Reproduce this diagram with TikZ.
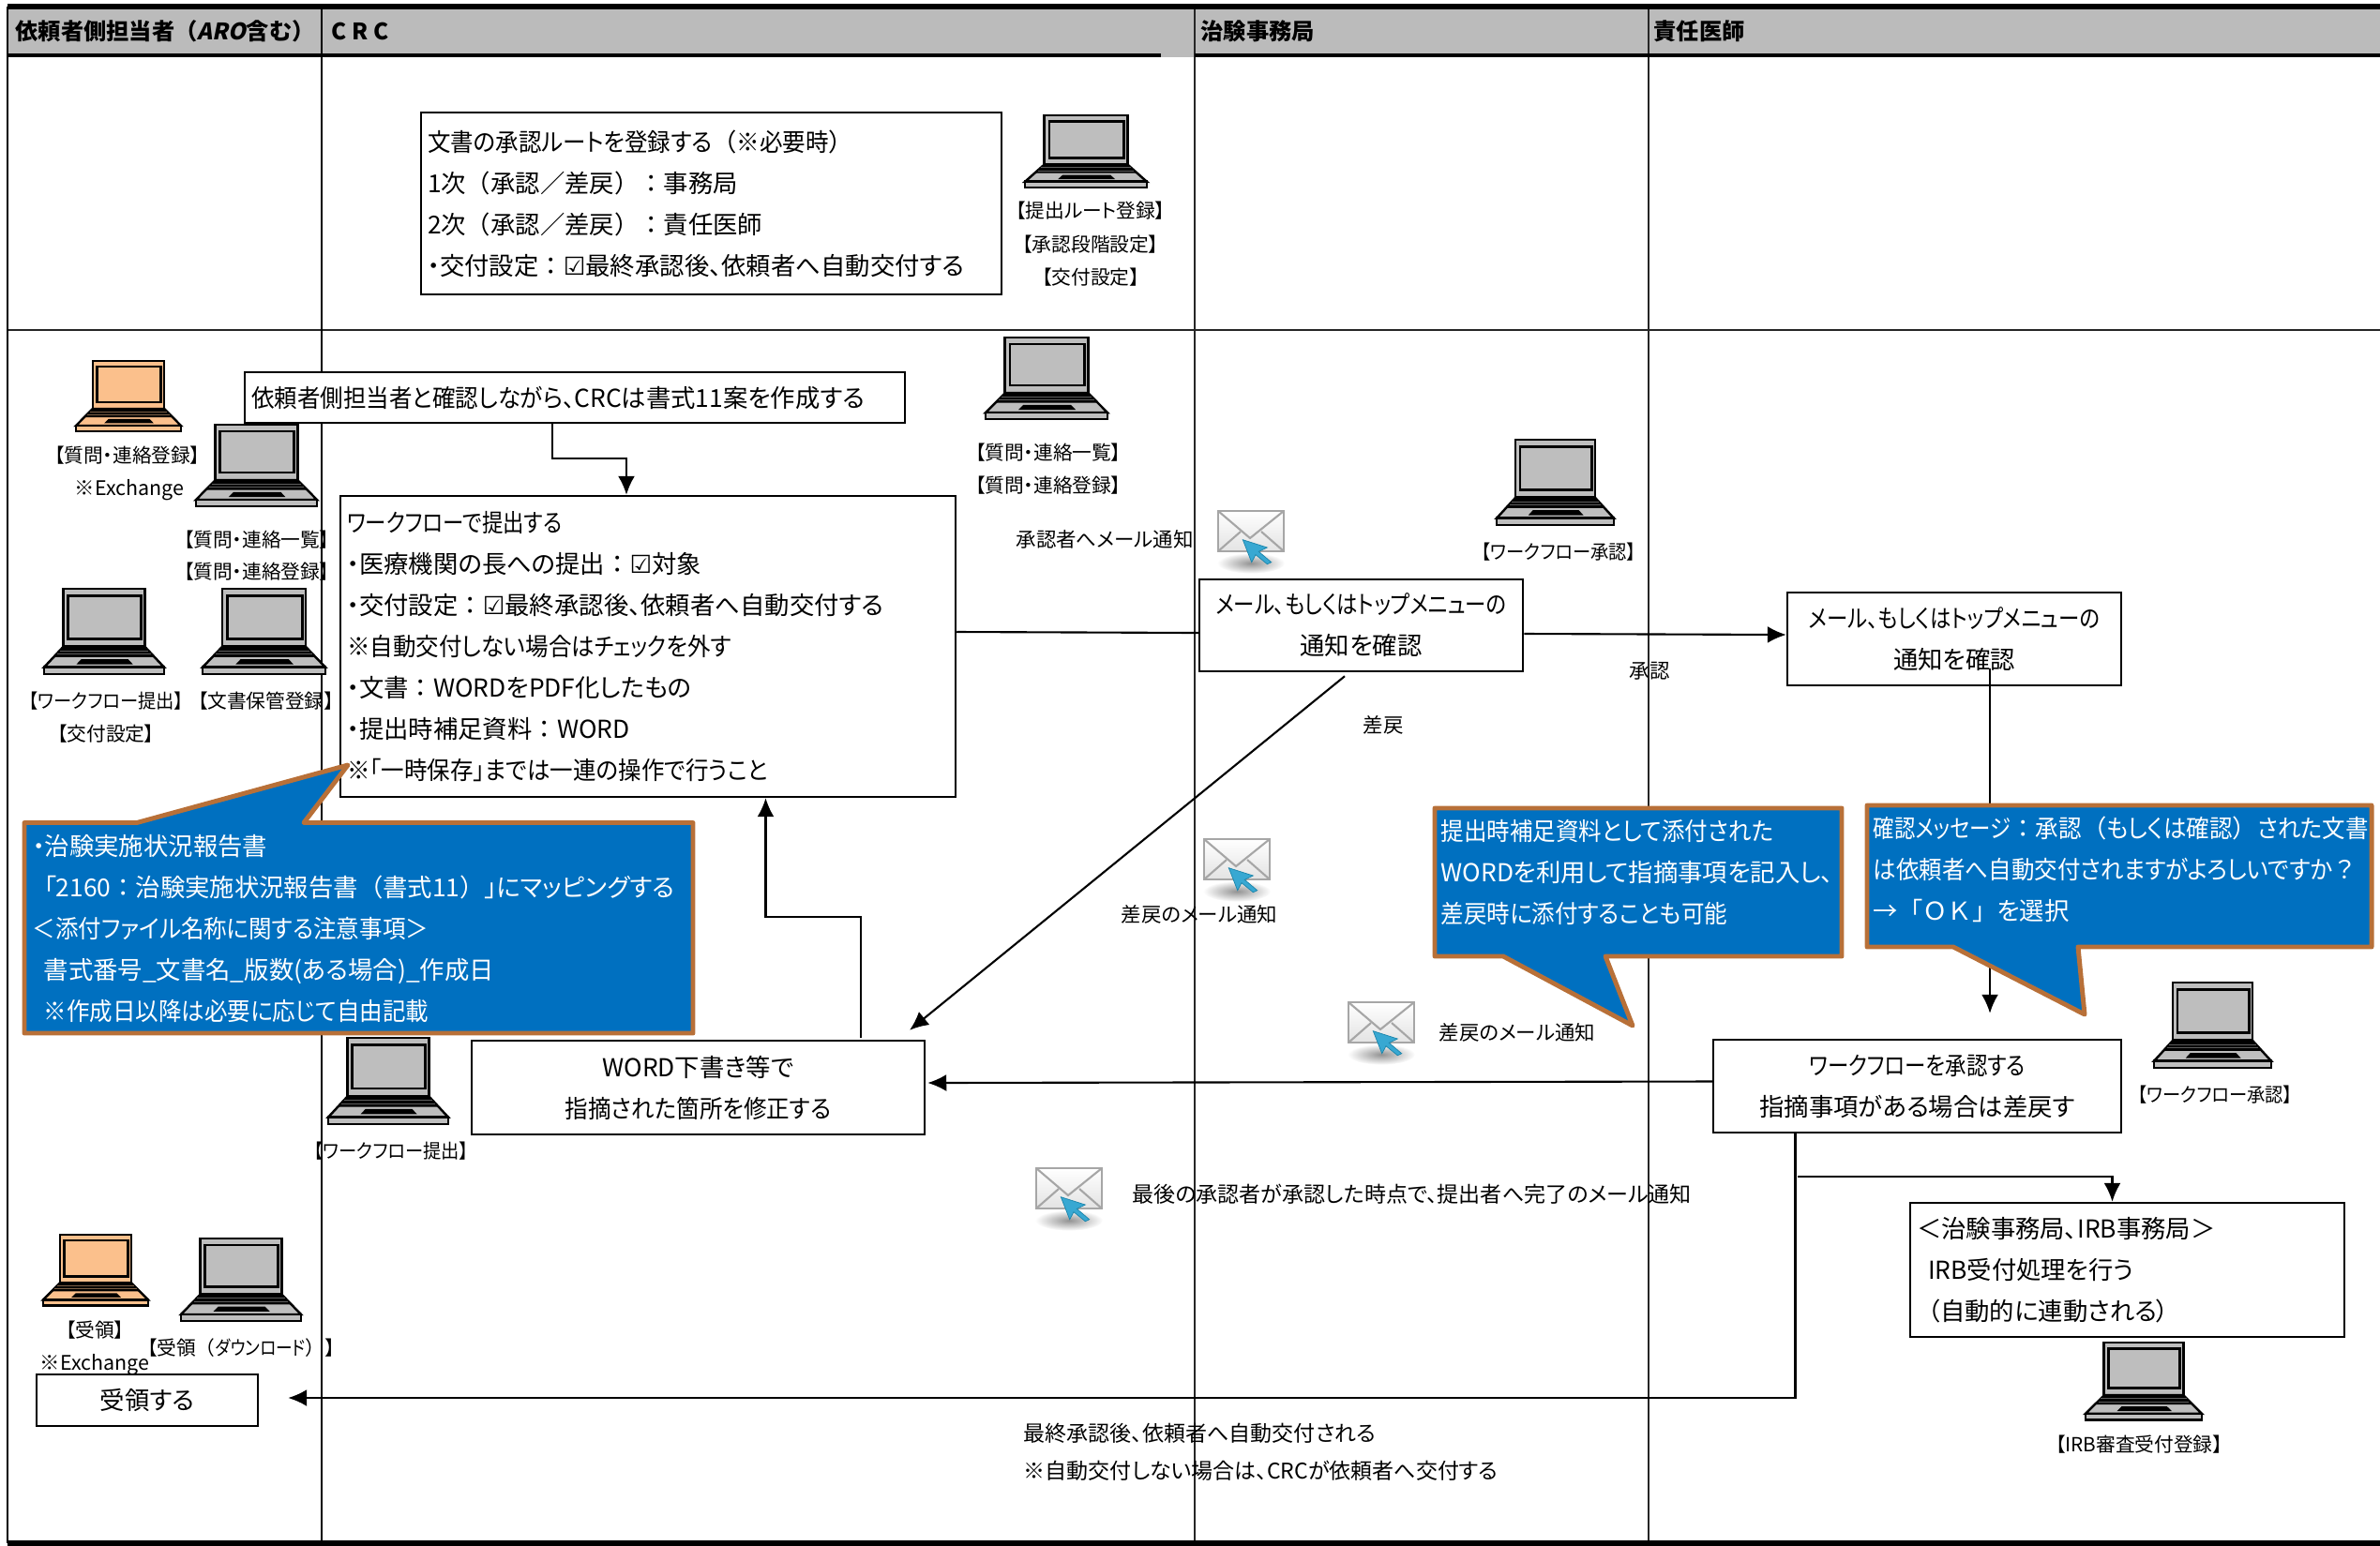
\documentclass[tikz,border=0pt]{standalone}
\usepackage{fontspec}
\setmainfont[RawFeature=+palt]{Noto Sans CJK JP}
\newfontfamily\fwfont{Noto Sans CJK JP}
\newfontfamily\nwafont[FakeStretch=0.85,RawFeature=+palt]{Noto Sans CJK JP}
\newfontfamily\nwbfont[FakeStretch=0.93,RawFeature=+palt]{Noto Sans CJK JP}
\newfontfamily\arofont[FakeSlant=0.2]{Noto Sans CJK JP Bold}
\newfontfamily\symfont{DejaVu Sans}
\newcommand{\fw}[1]{{\fwfont #1}}
\newcommand{\nwa}[1]{{\nwafont #1}}
\newcommand{\nwb}[1]{{\nwbfont #1}}
\newcommand{\chk}{{\symfont ☑}}
\usetikzlibrary{arrows.meta}
\definecolor{headgray}{HTML}{BBBBBB}
\definecolor{lapgray}{HTML}{BEBEBE}
\definecolor{laporange}{HTML}{FBC08C}
\definecolor{noteblue}{HTML}{0070C0}
\definecolor{noteedge}{HTML}{B87038}
\definecolor{cursorblue}{HTML}{38A8D2}
\definecolor{cursoredge}{HTML}{1A84AA}
\tikzset{
  laneline/.style={draw=black!85,line width=0.5pt},
  procbox/.style={draw,fill=white,line width=0.7pt,inner xsep=0.07cm,inner ysep=0pt,align=left,font=\fontsize{7.5}{12.5}\selectfont},
  midbox/.style={procbox,align=center},
  flowline/.style={line width=0.6pt},
  flowarrow/.style={line width=0.6pt,-{Latex[length=0.2cm,width=0.18cm]}},
  notebody/.style={draw=noteedge,fill=noteblue,line width=1.4pt,line join=round},
  notetext/.style={text=white,anchor=north west,inner sep=0pt,align=left,font=\fontsize{7.5}{12.5}\selectfont},
  headtext/.style={anchor=west,inner sep=0pt,font=\fontsize{6.9}{9}\selectfont\bfseries},
  lbl/.style={inner sep=0pt,font=\fontsize{5.9}{8}\selectfont},
  msg/.style={inner sep=0pt,font=\fontsize{6.1}{8}\selectfont},
  msgbig/.style={inner sep=0pt,font=\fontsize{6.55}{8}\selectfont},
  mailedge/.style={draw=gray!70,line width=0.6pt}
}
\newcommand{\laptop}[5]{\begin{scope}[shift={(#1,#2)},xscale=#3,yscale=#4]
\draw[fill=#5,line width=0.8pt] (0.16,0) rectangle (0.84,0.68);
\draw[fill=#5,line width=0.8pt] (0.2,0.08) rectangle (0.81,0.586);
\draw[fill=#5,line width=0.7pt] (0.16,0.68) -- (0.84,0.68) -- (1,0.92) -- (0,0.92) -- cycle;
\fill[black] (0.16,0.68) -- (0.84,0.68) -- (0.92,0.80) -- (0.08,0.80) -- cycle;
\draw[#5!50!black,very thin] (0.13,0.725) -- (0.87,0.725);
\draw[#5!50!black,very thin] (0.11,0.765) -- (0.89,0.765);
\fill[black] (0.31,0.825) -- (0.70,0.825) -- (0.74,0.885) -- (0.27,0.885) -- cycle;
\draw[fill=#5,line width=0.8pt] (0,0.92) rectangle (1,1);
\end{scope}}
\newcommand{\mailicon}[2]{\begin{scope}[shift={(#1,#2)}]
\shade[inner color=gray!85,outer color=white] (0.35,0.557) ellipse [x radius=0.36,y radius=0.11];
\draw[mailedge,top color=white,bottom color=gray!22] (0,0) rectangle (0.70,0.43);
\draw[mailedge] (0,0) -- (0.34,0.29) -- (0.70,0);
\draw[mailedge] (0,0.43) -- (0.24,0.22);
\draw[mailedge] (0.70,0.43) -- (0.46,0.22);
\draw[fill=cursorblue,draw=cursoredge,very thin] (0.263,0.307) -- (0.523,0.39) -- (0.433,0.433) -- (0.567,0.547) -- (0.523,0.567) -- (0.40,0.467) -- (0.357,0.547) -- cycle;
\end{scope}}
\begin{document}
\begin{tikzpicture}[y=-1cm]
\useasboundingbox (0,0) rectangle (25.38,16.48);
\fill[headgray] (0.08,0.07) rectangle (25.38,0.61);
\draw[laneline] (0.08,3.52) -- (25.38,3.52);
\draw[line width=0.6pt] (3.43,0.07) -- (3.43,16.46);
\draw[laneline] (12.74,0.07) -- (12.74,16.46);
\draw[laneline] (17.58,0.07) -- (17.58,16.46);
\draw[line width=1.5pt] (0.08,0.07) -- (25.38,0.07);
\draw[line width=1.4pt] (0.08,0.59) -- (12.38,0.59);
\draw[line width=1.4pt] (12.74,0.59) -- (25.38,0.59);
\draw[line width=0.8pt] (0.08,0.07) -- (0.08,16.46);
\draw[line width=1.5pt] (0.08,16.46) -- (25.38,16.46);
\node[headtext] (headsponsor) at (0.16,0.33) {依頼者側担当者\fw{（}{\arofont ARO}含む\fw{）}};
\node[headtext] (headcrc) at (3.53,0.33) {C R C};
\node[headtext] (headoffice) at (12.80,0.33) {治験事務局};
\node[headtext] (headdoctor) at (17.63,0.33) {責任医師};

\node[procbox,text width=6.05cm,minimum height=1.94cm] (routebox) at (7.585,2.17) {\nwb{文書の承認ルートを登録する\fw{（}※必要時\fw{）}}\\1次\fw{（}承認／差戻\fw{）：}事務局\\2次\fw{（}承認／差戻\fw{）：}責任医師\\・交付設定\fw{：}\chk 最終承認後、依頼者へ自動交付する};
\node[procbox,text width=6.90cm,minimum height=0.54cm] (draftbox) at (6.13,4.24) {\nwb{依頼者側担当者と確認しながら、}CRCは書式11案を作成する};
\node[procbox,text width=6.42cm,minimum height=3.21cm] (workbox) at (6.91,6.895) {\nwa{ワークフローで提出する}\\・医療機関の長への提出\fw{：}\chk 対象\\・交付設定\fw{：}\chk 最終承認後、依頼者へ自動交付する\\\nwb{※自動交付しない場合は\nwa{チェック}を外す}\\・文書\fw{：}WORDをPDF化したもの\\・提出時補足資料\fw{：}WORD\\\nwb{※「一時保存」までは一連の操作で行うこと}};
\node[midbox,minimum width=3.45cm,minimum height=0.98cm] (mailboxa) at (14.515,6.67) {\nwa{メール、もしくはトップメニューの}\\通知を確認};
\node[midbox,minimum width=3.56cm,minimum height=0.99cm] (mailboxb) at (20.84,6.815) {\nwa{メール、もしくはトップメニューの}\\通知を確認};
\node[midbox,minimum width=4.35cm,minimum height=0.99cm] (approvebox) at (20.445,11.585) {\nwa{ワークフローを承認する}\\指摘事項がある場合は差戻す};
\node[midbox,minimum width=4.83cm,minimum height=1cm] (fixbox) at (7.445,11.60) {WORD下書き等で\\\nwb{指摘された箇所を修正する}};
\node[procbox,text width=4.49cm,minimum height=1.43cm] (irbbox) at (22.685,13.545) {＜治験事務局、IRB事務局＞\\\hspace*{0.12cm}IRB受付処理を行う\\\hspace*{0.12cm}（自動的に連動される）};
\node[midbox,minimum width=2.36cm,minimum height=0.55cm] (receivebox) at (1.57,14.935) {受領する};

\draw[flowarrow] ([xshift=-0.24cm]draftbox.south) -- ++(0,0.365) -| ([xshift=-0.23cm]workbox.north);
\draw[flowline] ([yshift=0.155cm]workbox.east) -- ([yshift=-0.08cm]mailboxa.west);
\draw[flowarrow] ([yshift=-0.09cm]mailboxa.east) -- ([yshift=0.045cm]mailboxb.west);
\draw[flowarrow] ([xshift=0.38cm,yshift=0.19cm]mailboxb.south) -- ([xshift=0.775cm,yshift=0.27cm]approvebox.north);
\draw[flowarrow] ([yshift=0.05cm]approvebox.west) -- ([xshift=0.02cm,yshift=0.05cm]fixbox.east);
\draw[flowarrow] ([xshift=1.735cm,yshift=0.02cm]fixbox.north) -- ++(0,-1.29) -| ([xshift=1.255cm]workbox.south);
\draw[flowarrow] ([xshift=-0.175cm,yshift=-0.04cm]mailboxa.south) -- ([xshift=2.255cm,yshift=0.10cm]fixbox.north);
\draw[flowarrow] ([xshift=-1.3cm]approvebox.south) |- ([xshift=0.31cm,yshift=0.025cm]receivebox.east);
\draw[flowarrow] ([xshift=-1.275cm,yshift=-0.46cm]approvebox.south) -| ([xshift=-0.16cm]irbbox.north);

\draw[notebody] (0.26,8.775) -- (1.46,8.775) -- (3.71,8.16) -- (3.24,8.775) -- (7.39,8.775) -- (7.39,11.02) -- (0.26,11.02) -- cycle;
\node[notetext] (notereport) at (0.34,8.90) {・治験実施状況報告書\\\hspace*{0.12cm}「2160\fw{：}治験実施状況報告書\fw{（}書式11\fw{）}」にマッピングする\\\nwb{＜添付ファイル名称に関する注意事項＞}\\\hspace*{0.12cm}書式番号\_文書名\_版数(ある場合)\_作成日\\\hspace*{0.12cm}\nwb{※作成日以降は必要に応じて自由記載}};
\draw[notebody] (15.30,8.62) -- (19.64,8.62) -- (19.64,10.20) -- (17.12,10.20) -- (17.41,10.94) -- (16.03,10.20) -- (15.30,10.20) -- cycle;
\node[notetext] (noteattach) at (15.36,8.74) {\nwb{提出時補足資料として添付された}\\WORDを利用して指摘事項を記入し、\\\nwb{差戻時に添付することも可能}};
\draw[notebody] (19.91,8.59) -- (25.29,8.59) -- (25.29,10.10) -- (22.16,10.10) -- (22.23,10.82) -- (20.83,10.10) -- (19.91,10.10) -- cycle;
\node[notetext] (noteconfirm) at (19.97,8.70) {\nwa{確認メッセージ}\nwb{\fw{：}承認\fw{（}もしくは確認\fw{）}された文書}\\\nwb{は依頼者へ自動交付されますがよろしいですか\fw{？}}\\→\fw{「ＯＫ」}を選択};

\laptop{0.81}{3.85}{1.12}{0.75}{laporange}
\laptop{2.09}{4.53}{1.29}{0.87}{lapgray}
\laptop{0.47}{6.28}{1.28}{0.91}{lapgray}
\laptop{2.16}{6.28}{1.31}{0.91}{lapgray}
\laptop{10.51}{3.60}{1.30}{0.87}{lapgray}
\laptop{10.93}{1.23}{1.30}{0.77}{lapgray}
\laptop{15.96}{4.69}{1.25}{0.91}{lapgray}
\laptop{3.50}{11.07}{1.28}{0.92}{lapgray}
\laptop{22.97}{10.48}{1.25}{0.91}{lapgray}
\laptop{22.24}{14.32}{1.24}{0.825}{lapgray}
\laptop{0.46}{13.17}{1.12}{0.755}{laporange}
\laptop{1.93}{13.21}{1.28}{0.88}{lapgray}

\mailicon{12.99}{5.45}
\mailicon{12.84}{8.95}
\mailicon{14.38}{10.69}
\mailicon{11.05}{12.46}

\node[lbl] (lblrouteone) at (11.63,2.25) {【提出ルート登録】};
\node[lbl] (lblroutetwo) at (11.63,2.61) {【承認段階設定】};
\node[lbl] (lblroutethree) at (11.63,2.96) {【交付設定】};
\node[lbl] (lblaskone) at (1.36,4.86) {【質問・連絡登録】};
\node[msg] (lblexone) at (1.38,5.23) {※Exchange};
\node[lbl] (lblaskcrcone) at (11.18,4.83) {【質問・連絡一覧】};
\node[lbl] (lblaskcrctwo) at (11.18,5.18) {【質問・連絡登録】};
\node[lbl] (lblasklistleft) at (2.74,5.755) {【質問・連絡一覧】};
\node[lbl] (lblaskregleft) at (2.74,6.10) {【質問・連絡登録】};
\node[lbl] (lblsubmit) at (1.13,7.48) {\nwb{【ワークフロー提出】}};
\node[lbl] (lblgrant) at (1.13,7.83) {【交付設定】};
\node[lbl] (lblstore) at (2.835,7.48) {【文書保管登録】};
\node[lbl] (lblapprove) at (16.62,5.89) {\nwb{【ワークフロー承認】}};
\node[lbl] (lblsubmittwo) at (4.17,12.28) {\nwb{【ワークフロー提出】}};
\node[lbl] (lblapprovetwo) at (23.62,11.68) {\nwb{【ワークフロー承認】}};
\node[lbl] (lblirb) at (22.81,15.41) {【IRB審査受付登録】};
\node[lbl] (lblrecv) at (1.01,14.19) {【受領】};
\node[msg] (lblextwo) at (1.01,14.555) {※Exchange};
\node[lbl] (lblrecvdl) at (2.57,14.38) {【受領\fw{（}\nwa{ダウンロード}\fw{）}】};

\node[msg] (msgnotify) at (11.78,5.75) {承認者へメール通知};
\node[msg] (msgok) at (17.59,7.16) {承認};
\node[msg] (msgback) at (14.75,7.735) {差戻};
\node[msg] (msgbackmail) at (12.79,9.75) {差戻のメール通知};
\node[msg,anchor=west] (msgbackmailtwo) at (15.34,11.01) {差戻のメール通知};
\node[msgbig,anchor=west] (msglast) at (12.07,12.74) {最後の承認者が承認した時点で、提出者へ完了のメール通知};
\node[msgbig,anchor=west] (msgfinal) at (10.91,15.29) {最終承認後、依頼者へ自動交付される};
\node[msgbig,anchor=west] (msgmanual) at (10.91,15.69) {※自動交付しない場合は、CRCが依頼者へ交付する};
\end{tikzpicture}
\end{document}
